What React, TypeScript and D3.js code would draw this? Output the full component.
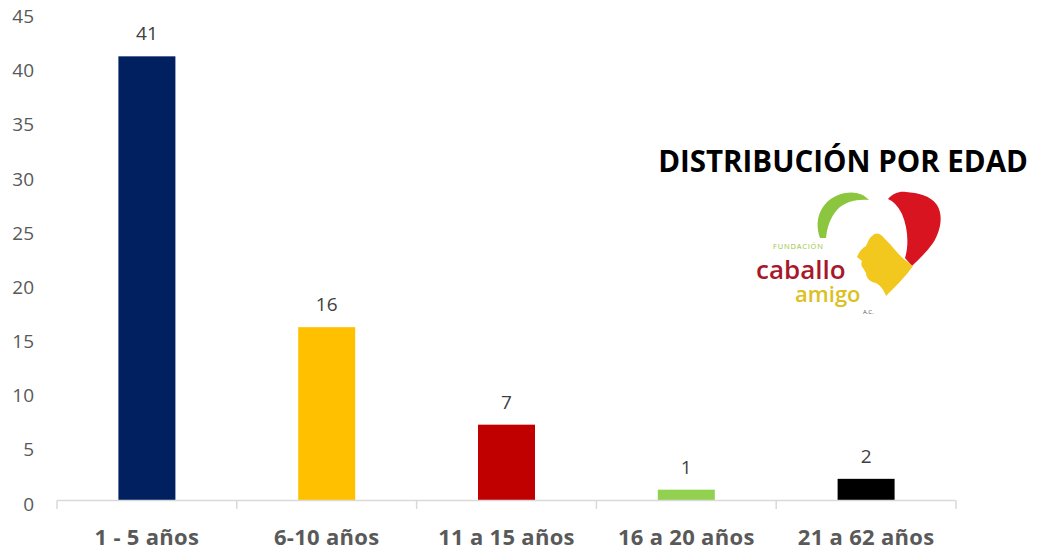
import React from "react";
import * as d3 from "d3";

const categories = ["1 - 5 años", "6-10 años", "11 a 15 años", "16 a 20 años", "21 a 62 años"];
const values = [41, 16, 7, 1, 2];
const barColors = ["#002060", "#FFC000", "#C00000", "#92D050", "#000000"];
const yTicks = [0, 5, 10, 15, 20, 25, 30, 35, 40, 45];
const title = "DISTRIBUCIÓN POR EDAD";

const W = 1037;
const H = 552;
const FONT = "'Open Sans', 'DejaVu Sans', sans-serif";

export default function App() {
  const x = d3.scaleBand<string>().domain(categories).range([57, 956]).paddingInner(0).paddingOuter(0);
  const y = d3.scaleLinear().domain([0, 45]).range([500.5, 13]);
  const bw = x.bandwidth() * 0.317;
  const bounds = [...categories.map((c) => x(c) as number), 956];

  return (
    <svg width={W} height={H} style={{ position: "absolute", left: 0, top: 0, background: "#fff" }}>
      <rect x={0} y={0} width={W} height={H} fill="#fff" />
      {/* y tick labels */}
      {yTicks.map((t) => (
        <text key={t} x={34} y={y(t) + 3} textAnchor="end" dominantBaseline="central"
          fontFamily={FONT} fontSize={19} fill="#595959">{t}</text>
      ))}
      {/* bars */}
      {categories.map((c, i) => {
        const cx = (x(c) as number) + x.bandwidth() / 2;
        return (
          <g key={c}>
            <rect x={cx - bw / 2} y={y(values[i])} width={bw} height={y(0) - y(values[i])} fill={barColors[i]} />
            <text x={cx} y={y(values[i]) - 16} textAnchor="middle" fontFamily={FONT} fontSize={19} fill="#404040">{values[i]}</text>
            <text x={cx} y={545} textAnchor="middle" fontFamily={FONT} fontWeight={700} fontSize={22} letterSpacing={0.3} fill="#595959">{c}</text>
          </g>
        );
      })}
      {/* axis */}
      <line x1={57} x2={956} y1={y(0)} y2={y(0)} stroke="#d9d9d9" strokeWidth={1.5} />
      {bounds.map((b, i) => (
        <line key={i} x1={b} x2={b} y1={y(0)} y2={509} stroke="#d9d9d9" strokeWidth={1.5} />
      ))}
      {/* title */}
      <text x={843} y={172} textAnchor="middle" fontFamily={FONT} fontWeight={700} fontSize={29.5} fill="#000">{title}</text>
      {/* logo */}
      <g>
        <path d="M 820 238 C 813 218, 822 198, 845 193 C 855 191, 864 194, 869 200 C 858 199, 845 201, 837 210 C 830 218, 827 228, 826 238 Z" fill="#8cc63f" />
        <path d="M 888 199 C 893 193, 900 191, 906 192 C 918 193, 930 195, 937 205 C 944 216, 940 232, 933 243 C 926 253, 918 260, 912 266 L 905 258 C 909 245, 908 228, 902 214 C 898 206, 893 201, 888 199 Z" fill="#d7141f" />
        <path d="M 872 236 C 876 232, 880 233, 884 238 L 890 244 C 895 250, 900 256, 905 260 L 913 266 C 906 276, 895 287, 886 296 C 884 290, 880 285, 876 283 C 870 282, 866 278, 866 273 L 863 268 C 861 266, 861 263, 862 261 L 857 257 C 859 252, 862 248, 866 246 C 868 242, 869 238, 872 236 Z" fill="#f2c81e" />
        <text x={773} y={249} fontFamily={FONT} fontSize={7.5} fill="#9bc53d" letterSpacing={0.8}>FUNDACIÓN</text>
        <text x={756} y={279} fontFamily={FONT} fontWeight={600} fontSize={26} fill="#a8182a">caballo</text>
        <text x={795} y={302} fontFamily={FONT} fontWeight={600} fontSize={22} fill="#dcc020">amigo</text>
        <text x={863} y={314} fontFamily={FONT} fontSize={6} fill="#555">A.C.</text>
      </g>
    </svg>
  );
}
